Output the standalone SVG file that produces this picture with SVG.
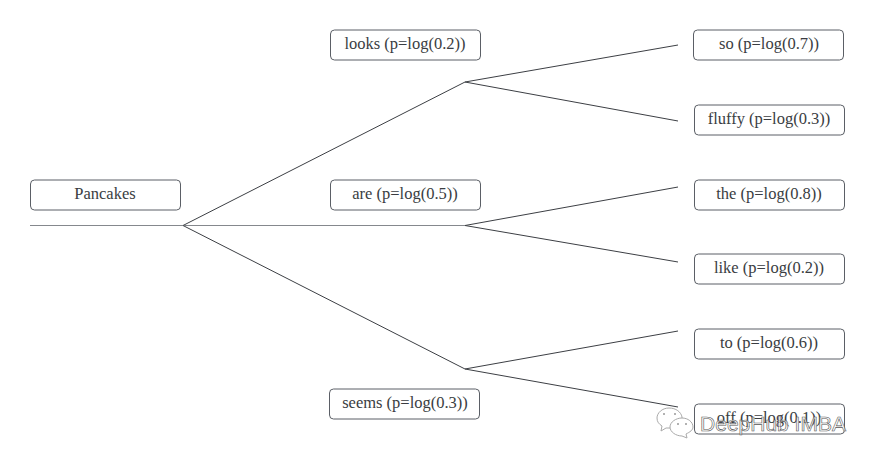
<svg xmlns="http://www.w3.org/2000/svg" width="875" height="464" viewBox="0 0 875 464">
<style>
.n{fill:#fff;stroke:#5b5f66;stroke-width:1}
.t{font-family:"Liberation Serif",serif;font-size:16.500px;fill:#3a3d42;text-anchor:middle}
.w{font-family:"Liberation Sans",sans-serif;font-size:21px;fill:#fff;fill-opacity:.7;stroke:#555;stroke-width:.6;text-anchor:middle}
#connectors path{fill:none;stroke:#3c3f44;stroke-width:1}
#connectors path.h{stroke:#85888d}
.i{fill:#fff;stroke:#aaa;stroke-width:1}
.d{fill:#999}
</style>
<rect width="875" height="464" fill="#fff"/>
<g id="connectors">
<path d="M183 225.500L465 82L678 45M465 82L678 121"/>
<path class="h" d="M30 225.500H465"/>
<path d="M465 225.500L678 187M465 225.500L678 262"/>
<path d="M183 225.500L465 369L678 331M465 369L678 407"/>
</g>
<g id="n0"><rect class="n" x="30.500" y="180" width="150" height="30" rx="4"/><text class="t" x="105" y="199">Pancakes</text></g>
<g id="n1"><rect class="n" x="330.500" y="30" width="150" height="30" rx="4"/><text class="t" x="405" y="49">looks (p=log(0.2))</text></g>
<g id="n2"><rect class="n" x="330.500" y="180" width="150" height="30" rx="4"/><text class="t" x="405" y="199">are (p=log(0.5))</text></g>
<g id="n3"><rect class="n" x="329.500" y="389" width="150" height="30" rx="4"/><text class="t" x="405" y="408">seems (p=log(0.3))</text></g>
<g id="n4"><rect class="n" x="693.500" y="30" width="150" height="30" rx="4"/><text class="t" x="769" y="49">so (p=log(0.7))</text></g>
<g id="n5"><rect class="n" x="694.500" y="105" width="150" height="30" rx="4"/><text class="t" x="769" y="124">fluffy (p=log(0.3))</text></g>
<g id="n6"><rect class="n" x="694.500" y="180" width="150" height="30" rx="4"/><text class="t" x="769" y="199">the (p=log(0.8))</text></g>
<g id="n7"><rect class="n" x="694.500" y="254" width="150" height="30" rx="4"/><text class="t" x="769" y="273">like (p=log(0.2))</text></g>
<g id="n8"><rect class="n" x="694.500" y="329" width="150" height="30" rx="4"/><text class="t" x="769" y="348">to (p=log(0.6))</text></g>
<g id="n9"><rect class="n" x="694.500" y="404" width="150" height="30" rx="4"/><text class="t" x="769" y="423">off (p=log(0.1))</text></g>
<g id="watermark">
<path class="i" d="M669 408c-7 0-12 5-12 10 0 4 2 6 5 8l-1 5 5-3h4c6 0 13-5 12-11-1-5-6-9-13-9z"/>
<path class="i" d="M682 418c-6 0-12 4-12 9s6 9 12 9l5 2-1-4c4-2 7-4 7-7 0-5-5-9-11-9z"/>
<circle class="d" cx="664" cy="414" r="1"/><circle class="d" cx="675" cy="414" r="1"/>
<circle class="d" cx="678" cy="424" r="1"/><circle class="d" cx="686" cy="424" r="1"/>
<text class="w" x="773" y="431">DeepHub IMBA</text>
</g>
</svg>
